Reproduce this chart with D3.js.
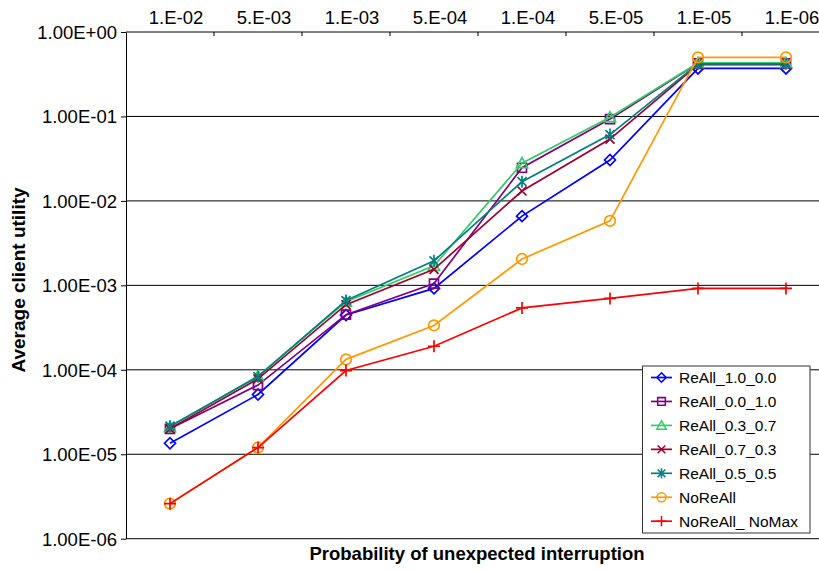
<!DOCTYPE html>
<html>
<head>
<meta charset="utf-8">
<script src="https://cdn.jsdelivr.net/npm/d3@7/dist/d3.min.js"></script>
<style>
  html, body { margin: 0; padding: 0; background: #fff; }
  svg { display: block; font-family: "Liberation Sans", Arial, sans-serif; }
</style>
</head>
<body>
<svg id="chart" width="819" height="570"></svg>
<script>
// ---------- DATA ----------
const categories = ["1.E-02", "5.E-03", "1.E-03", "5.E-04", "1.E-04", "5.E-05", "1.E-05", "1.E-06"];
const yTickValues = [1e-6, 1e-5, 1e-4, 1e-3, 1e-2, 1e-1, 1];
const yTickLabels = ["1.00E-06", "1.00E-05", "1.00E-04", "1.00E-03", "1.00E-02", "1.00E-01", "1.00E+00"];

const seriesNames = ["ReAll_1.0_0.0", "ReAll_0.0_1.0", "ReAll_0.3_0.7", "ReAll_0.7_0.3", "ReAll_0.5_0.5", "NoReAll", "NoReAll_ NoMax"];
const reAll_1_0 = [1.35e-5, 5.1e-5, 4.45e-4, 9.2e-4, 6.6e-3, 3.05e-2, 0.37, 0.37];
const reAll_0_1 = [2.0e-5, 6.6e-5, 4.5e-4, 1.05e-3, 2.47e-2, 9.3e-2, 0.425, 0.425];
const reAll_3_7 = [2.1e-5, 8.4e-5, 6.4e-4, 1.7e-3, 2.8e-2, 9.8e-2, 0.43, 0.43];
const reAll_7_3 = [2.0e-5, 7.8e-5, 5.9e-4, 1.55e-3, 1.31e-2, 5.4e-2, 0.41, 0.41];
const reAll_5_5 = [2.15e-5, 8.3e-5, 6.6e-4, 1.95e-3, 1.69e-2, 6.1e-2, 0.42, 0.42];
const noReAll = [2.6e-6, 1.2e-5, 1.33e-4, 3.35e-4, 2.05e-3, 5.8e-3, 0.50, 0.50];
const noReAllNoMax = [2.6e-6, 1.2e-5, 9.8e-5, 1.9e-4, 5.4e-4, 7.0e-4, 9.2e-4, 9.2e-4];

const xTitle = "Probability of unexpected interruption";
const yTitle = "Average client utility";

// ---------- STYLE ----------
const colors = ["#0000FF", "#800080", "#33CC66", "#A00030", "#008080", "#FF9900", "#FF0000"];
const markers = ["diamond", "square", "triangle", "x", "asterisk", "circle", "plus"];
const allSeries = [reAll_1_0, reAll_0_1, reAll_3_7, reAll_7_3, reAll_5_5, noReAll, noReAllNoMax];

const svg = d3.select("#chart");
const pLeft = 126, pRight = 830, pTop = 32, pBottom = 538.7;

const x = d3.scaleBand().domain(categories).range([pLeft, pRight]).paddingInner(0).paddingOuter(0);
const xc = c => x(c) + x.bandwidth() / 2;
const y = d3.scaleLog().domain([1e-6, 1]).range([pBottom, pTop]);

// gridlines
svg.append("g").selectAll("line").data(yTickValues.filter(v => v < 1)).join("line")
  .attr("x1", pLeft).attr("x2", 819)
  .attr("y1", d => y(d)).attr("y2", d => y(d))
  .attr("stroke", "#000").attr("stroke-width", 1);

// left axis
const yAxis = d3.axisLeft(y).tickValues(yTickValues)
  .tickFormat((d, i) => yTickLabels[i]).tickSize(5).tickSizeOuter(0);
const gy = svg.append("g").attr("transform", `translate(${pLeft},0)`).call(yAxis);
gy.select(".domain").attr("stroke", "#000");
gy.selectAll(".tick line").attr("stroke", "#000");
gy.selectAll(".tick text").attr("font-size", 18.5).attr("fill", "#000")
  .attr("font-family", "Liberation Sans, Arial, sans-serif").attr("x", -9).attr("dy", "0.35em");

// top axis line
svg.append("line").attr("x1", pLeft).attr("x2", 819).attr("y1", pTop).attr("y2", pTop)
  .attr("stroke", "#000").attr("stroke-width", 1);
// top tick marks at band boundaries
svg.append("g").selectAll("line").data(categories.slice(1)).join("line")
  .attr("x1", d => x(d)).attr("x2", d => x(d))
  .attr("y1", pTop).attr("y2", pTop + 4).attr("stroke", "#000");
// top labels
svg.append("g").selectAll("text").data(categories).join("text")
  .attr("x", d => xc(d) + 6).attr("y", 24)
  .attr("text-anchor", "middle").attr("font-size", 18.5).attr("fill", "#000")
  .text(d => d);

// titles
svg.append("text").attr("x", 477).attr("y", 560).attr("text-anchor", "middle")
  .attr("font-size", 18.5).attr("font-weight", "bold").text(xTitle);
svg.append("text").attr("transform", "translate(25,280) rotate(-90)").attr("text-anchor", "middle")
  .attr("font-size", 19).attr("font-weight", "bold").text(yTitle);

// marker paths
function markerPath(type) {
  switch (type) {
    case "diamond": return "M0,-5.5L5.5,0L0,5.5L-5.5,0Z";
    case "square": return "M-4.5,-4.5H4.5V4.5H-4.5Z";
    case "triangle": return "M0,-5.5L5.5,4.5H-5.5Z";
    case "x": return "M-4.5,-4.5L4.5,4.5M-4.5,4.5L4.5,-4.5";
    case "asterisk": return "M-4.5,-4.5L4.5,4.5M-4.5,4.5L4.5,-4.5M0,-6V6";
    case "circle": return "M5.3,0A5.3,5.3 0 1,1 -5.3,0A5.3,5.3 0 1,1 5.3,0Z";
    case "plus": return "M-6,0H6M0,-6V6";
  }
}

const line = d3.line().x((d, i) => xc(categories[i])).y(d => y(d));

allSeries.forEach((vals, si) => {
  const g = svg.append("g");
  g.append("path").datum(vals).attr("d", line)
    .attr("fill", "none").attr("stroke", colors[si]).attr("stroke-width", 1.7);
  g.selectAll("path.m").data(vals).join("path").attr("class", "m")
    .attr("transform", (d, i) => `translate(${xc(categories[i])},${y(d)})`)
    .attr("d", markerPath(markers[si]))
    .attr("fill", "none").attr("stroke", colors[si]).attr("stroke-width", 1.7);
});

// legend
const lg = svg.append("g");
lg.append("rect").attr("x", 642.5).attr("y", 366).attr("width", 167.5).attr("height", 167)
  .attr("fill", "#fff").attr("stroke", "#333").attr("stroke-width", 1);
seriesNames.forEach((name, i) => {
  const cy = 377.5 + i * 23.95;
  lg.append("line").attr("x1", 651).attr("x2", 672).attr("y1", cy).attr("y2", cy)
    .attr("stroke", colors[i]).attr("stroke-width", 1.7);
  lg.append("path").attr("transform", `translate(661.5,${cy}) scale(0.85)`)
    .attr("d", markerPath(markers[i])).attr("fill", "none")
    .attr("stroke", colors[i]).attr("stroke-width", 1.8);
  lg.append("text").attr("x", 679).attr("y", cy).attr("dy", "0.36em")
    .attr("font-size", 15.5).attr("fill", "#000").text(name);
});
</script>
</body>
</html>
